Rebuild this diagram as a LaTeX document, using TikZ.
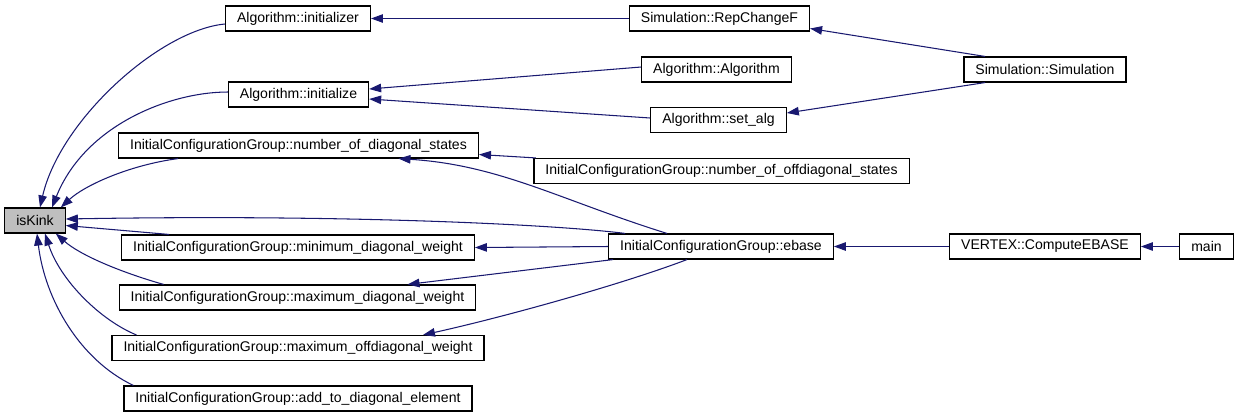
\documentclass[tikz,border=0pt]{standalone}
\usepackage{fontspec}
\setmainfont{Liberation Sans}
\usepackage{xcolor}
\usepackage{tikz}
\usetikzlibrary{arrows.meta,positioning}
\definecolor{CallNavy}{HTML}{191970}
\definecolor{FocusGray}{HTML}{BFBFBF}

\begin{document}
\begin{tikzpicture}[x=0.02cm, y=-0.02cm, font=\fontsize{8}{10}\selectfont,
  >={Triangle[length=0.24cm,width=0.17cm]},
  func/.style={draw=black, line width=0.65pt, fill=white, minimum height=0.5cm, inner xsep=0.23cm, inner ysep=0pt},
  focus/.style={func, fill=FocusGray},
  call/.style={->, line width=0.6pt, CallNavy}]
\useasboundingbox (0,0) rectangle (1240,417);

\node[focus] (iskink) at (35,220.5) {isKink};
\node[func] (initzr) at (298,18.5) {Algorithm::initializer};
\node[func] (initze) at (298.5,94.5) {Algorithm::initialize};
\node[func] (ndiag) at (298.5,145.5) {InitialConfigurationGroup::number\_of\_diagonal\_states};
\node[func] (mindiag) at (298,247.5) {InitialConfigurationGroup::minimum\_diagonal\_weight};
\node[func] (maxdiag) at (297.5,297.5) {InitialConfigurationGroup::maximum\_diagonal\_weight};
\node[func] (maxoff) at (298,348) {InitialConfigurationGroup::maximum\_offdiagonal\_weight};
\node[func] (adddiag) at (298,398.5) {InitialConfigurationGroup::add\_to\_diagonal\_element};
\node[func] (repch) at (719.5,18.5) {Simulation::RepChangeF};
\node[func] (algctor) at (716.5,69.5) {Algorithm::Algorithm};
\node[func] (setalg) at (718.5,120) {Algorithm::set\_alg};
\node[func] (simctor) at (1045,69.5) {Simulation::Simulation};
\node[func] (noffd) at (721.5,171) {InitialConfigurationGroup::number\_of\_offdiagonal\_states};
\node[func] (ebase) at (721,246.5) {InitialConfigurationGroup::ebase};
\node[func] (compeb) at (1045,246.5) {VERTEX::ComputeEBASE};
\node[func] (mainfn) at (1206.5,246.5) {main};

% callers of isKink
\draw[call] ([yshift=-0.11cm]initzr.west) .. controls (160,30) and (60,120) .. ([xshift=0.1cm]iskink.north);
\draw[call] ([yshift=0.05cm]initze.west) .. controls (170,92) and (85,125) .. ([xshift=0.34cm]iskink.north);
\draw[call] ([xshift=1.2cm]ndiag.south west) .. controls (130,165) and (85,185) .. ([xshift=-0.1cm]iskink.north east);
\draw[call] ([xshift=0.34cm]ebase.north west) .. controls (560,225) and (350,214) .. ([yshift=0.03cm]iskink.east);
\draw[call] ([xshift=0.96cm]mindiag.north west) -- ([yshift=-0.1cm]iskink.east);
\draw[call] ([xshift=0.9cm]maxdiag.north west) .. controls (120,272) and (80,255) .. ([xshift=-0.2cm]iskink.south east);
\draw[call] ([xshift=0.5cm]maxoff.north west) .. controls (100,320) and (60,280) .. ([xshift=0.2cm]iskink.south);
\draw[call] ([xshift=0.2cm]adddiag.north west) .. controls (80,360) and (45,300) .. ([xshift=0.04cm]iskink.south);

% second level
\draw[call] (repch.west) -- (initzr.east);
\draw[call] ([yshift=0.05cm]algctor.west) -- ([yshift=0.11cm]initze.east);
\draw[call] ([yshift=0.04cm]setalg.west) -- ([yshift=-0.09cm]initze.east);
\draw[call] ([xshift=0.05cm]noffd.north west) -- ([yshift=-0.18cm]ndiag.east);
\draw[call] ([xshift=-1.08cm]ebase.north) .. controls (560,200) and (500,165) .. ([xshift=2cm]ndiag.south);
\draw[call] (ebase.west) -- (mindiag.east);
\draw[call] ([xshift=0.1cm]ebase.south west) -- ([xshift=2.2cm]maxdiag.north);
\draw[call] ([xshift=-0.68cm]ebase.south) .. controls (620,285) and (500,318) .. ([xshift=2.5cm]maxoff.north);

% outer callers
\draw[call] ([xshift=-1.2cm]simctor.north) -- ([yshift=-0.2cm]repch.east);
\draw[call] ([xshift=-1.2cm]simctor.south) -- ([yshift=0.14cm]setalg.east);
\draw[call] (compeb.west) -- (ebase.east);
\draw[call] (mainfn.west) -- (compeb.east);

\end{tikzpicture}
\end{document}
